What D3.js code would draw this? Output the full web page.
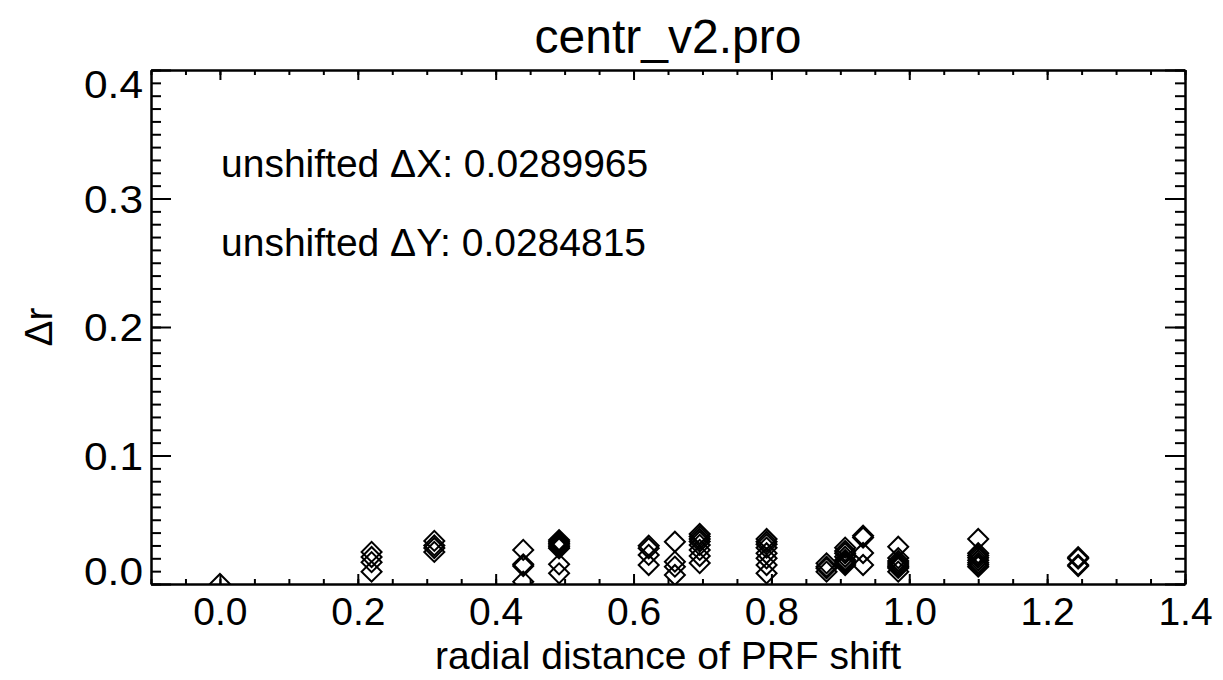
<!DOCTYPE html>
<html><head><meta charset="utf-8">
<script src="https://cdn.jsdelivr.net/npm/d3@7"></script>
<style>
body{margin:0;background:#fff}
text{font-family:"Liberation Sans",Arial,Helvetica,sans-serif;fill:#000}
</style>
</head><body>
<svg id="c" width="1223" height="680"></svg>
<script>
const title = "centr_v2.pro";
const xTitle = "radial distance of PRF shift";
const yTitle = "\u0394r";
const notes = ["unshifted \u0394X: 0.0289965", "unshifted \u0394Y: 0.0284815"];
const xTickValues = [0.0, 0.2, 0.4, 0.6, 0.8, 1.0, 1.2, 1.4];
const xTickLabels = ["0.0", "0.2", "0.4", "0.6", "0.8", "1.0", "1.2", "1.4"];
const yTickValues = [0.0, 0.1, 0.2, 0.3, 0.4];
const yTickLabels = ["0.0", "0.1", "0.2", "0.3", "0.4"];

const radialShift = [
  0,
  0.22, 0.22, 0.22, 0.22,
  0.311, 0.311, 0.311, 0.311,
  0.44, 0.44, 0.44, 0.44,
  0.492, 0.492, 0.492, 0.492, 0.492, 0.492, 0.492, 0.492,
  0.622, 0.622, 0.622, 0.622,
  0.66, 0.66, 0.66, 0.66,
  0.696, 0.696, 0.696, 0.696, 0.696, 0.696, 0.696, 0.696,
  0.793, 0.793, 0.793, 0.793, 0.793, 0.793, 0.793, 0.793,
  0.88, 0.88, 0.88, 0.88,
  0.907, 0.907, 0.907, 0.907, 0.907, 0.907, 0.907, 0.907,
  0.933, 0.933, 0.933, 0.933,
  0.984, 0.984, 0.984, 0.984, 0.984, 0.984, 0.984, 0.984,
  1.1, 1.1, 1.1, 1.1, 1.1, 1.1, 1.1, 1.1,
  1.245, 1.245, 1.245, 1.245
];
const deltaR = [
  0,
  0.025, 0.021, 0.017, 0.0096,
  0.0335, 0.030, 0.028, 0.025,
  0.0265, 0.0153, 0.014, 0.0018,
  0.0342, 0.0329, 0.0317, 0.0304, 0.029, 0.0278, 0.0153, 0.0083,
  0.0298, 0.0278, 0.0226, 0.0148,
  0.0329, 0.0174, 0.0135, 0.007,
  0.0389, 0.037, 0.035, 0.0331, 0.0304, 0.0265, 0.0218, 0.0163,
  0.035, 0.0329, 0.0309, 0.0283, 0.0239, 0.020, 0.0148, 0.0083,
  0.0161, 0.0135, 0.0122, 0.0096,
  0.0283, 0.0257, 0.0239, 0.0212, 0.0187, 0.0174, 0.0161, 0.0148,
  0.0376, 0.0362, 0.0241, 0.0148,
  0.029, 0.0202, 0.0179, 0.0163, 0.0148, 0.0135, 0.0125, 0.0096,
  0.035, 0.0239, 0.0222, 0.0205, 0.0185, 0.0165, 0.015, 0.0135,
  0.0208, 0.0198, 0.0148, 0.014
];

const svg = d3.select("#c");
const L = 151, R = 1185, T = 70, B = 584;
const x = d3.scaleLinear().domain([-0.1, 1.4]).range([L, R]);
const y = d3.scaleLinear().domain([0, 0.4]).range([B, T]);

const xMinor = d3.range(-2, 29).map(i => +(i * 0.05).toFixed(3));
const yMinor = d3.range(0, 41).map(i => +(i * 0.01).toFixed(3));

function styleAxis(g) {
  g.attr("font-size", null).attr("font-family", null);
  g.selectAll("path.domain").attr("stroke", "#000").attr("stroke-width", 2);
  g.selectAll(".tick line").attr("stroke", "#000").attr("stroke-width", 2);
}

// bottom
svg.append("g").attr("transform", `translate(0,${B})`)
  .call(d3.axisBottom(x).tickValues(xMinor).tickSize(-5).tickSizeOuter(0).tickFormat(""))
  .call(styleAxis);
const gxb = svg.append("g").attr("transform", `translate(0,${B})`)
  .call(d3.axisBottom(x).tickValues(xTickValues).tickSize(-10).tickSizeOuter(0).tickPadding(13)
    .tickFormat((d, i) => xTickLabels[i]))
  .call(styleAxis);
gxb.selectAll("text").attr("font-size", 39);
// top
svg.append("g").attr("transform", `translate(0,${T})`)
  .call(d3.axisTop(x).tickValues(xMinor).tickSize(-5).tickSizeOuter(0).tickFormat(""))
  .call(styleAxis);
svg.append("g").attr("transform", `translate(0,${T})`)
  .call(d3.axisTop(x).tickValues(xTickValues).tickSize(-10).tickSizeOuter(0).tickFormat(""))
  .call(styleAxis);
// left
svg.append("g").attr("transform", `translate(${L},0)`)
  .call(d3.axisLeft(y).tickValues(yMinor).tickSize(-10).tickSizeOuter(0).tickFormat(""))
  .call(styleAxis);
const gyl = svg.append("g").attr("transform", `translate(${L},0)`)
  .call(d3.axisLeft(y).tickValues(yTickValues).tickSize(-20).tickSizeOuter(0).tickPadding(8)
    .tickFormat((d, i) => yTickLabels[i]))
  .call(styleAxis);
gyl.selectAll("text").attr("font-size", 39)
  .attr("textLength", 59).attr("lengthAdjust", "spacingAndGlyphs")
  .attr("dy", (d, i) => i === 0 ? "0em" : (i === yTickValues.length - 1 ? "0.71em" : "0.35em"));
// right
svg.append("g").attr("transform", `translate(${R},0)`)
  .call(d3.axisRight(y).tickValues(yMinor).tickSize(-10).tickSizeOuter(0).tickFormat(""))
  .call(styleAxis);
svg.append("g").attr("transform", `translate(${R},0)`)
  .call(d3.axisRight(y).tickValues(yTickValues).tickSize(-20).tickSizeOuter(0).tickFormat(""))
  .call(styleAxis);

// clip
svg.append("clipPath").attr("id", "clip").append("rect")
  .attr("x", L).attr("y", T).attr("width", R - L).attr("height", B - T);

const diamond = d3.symbol().type(d3.symbolSquare).size(200);
svg.append("g").attr("clip-path", "url(#clip)")
  .selectAll("path").data(radialShift.map((r, i) => [r, deltaR[i]]))
  .join("path")
  .attr("d", diamond)
  .attr("transform", d => `translate(${x(d[0])},${y(d[1])}) rotate(45)`)
  .attr("fill", "none").attr("stroke", "#000").attr("stroke-width", 2);

// texts
svg.append("text").attr("x", (L + R) / 2).attr("y", 53).attr("text-anchor", "middle")
  .attr("font-size", 48).text(title);
svg.append("text").attr("x", (L + R) / 2).attr("y", 669).attr("text-anchor", "middle")
  .attr("font-size", 39).text(xTitle);
svg.append("text").attr("transform", `translate(52,${(T + B) / 2}) rotate(-90)`)
  .attr("text-anchor", "middle").attr("font-size", 39).text(yTitle);
svg.selectAll("text.note").data(notes).join("text").attr("class", "note")
  .attr("x", 221).attr("y", (d, i) => 177 + i * 79)
  .attr("font-size", 39).text(d => d);
</script>
</body></html>
